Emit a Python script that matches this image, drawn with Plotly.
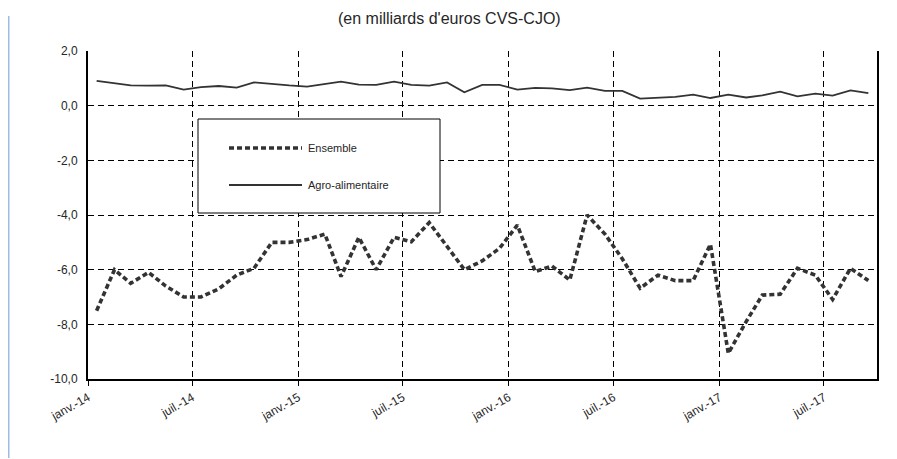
import pandas as pd
import plotly.graph_objects as go

# ---- data ----
START_MONTH = "2014-01-01"
ENSEMBLE = [-7.5, -6.0, -6.5, -6.1, -6.6, -7.0, -7.0, -6.7, -6.2, -5.95,
            -5.0, -5.0, -4.9, -4.7, -6.25, -4.82, -6.0, -4.82, -4.98, -4.28,
            -5.15, -6.0, -5.68, -5.22, -4.37, -6.07, -5.87, -6.38, -4.0, -4.7,
            -5.6, -6.68, -6.2, -6.4, -6.4, -5.07, -9.06, -7.9, -6.93, -6.9,
            -5.95, -6.2, -7.09, -5.95, -6.4]
AGRO = [0.91, 0.83, 0.74, 0.73, 0.74, 0.59, 0.68, 0.72, 0.66, 0.85,
        0.79, 0.74, 0.70, 0.79, 0.88, 0.77, 0.76, 0.88, 0.76, 0.73,
        0.85, 0.49, 0.76, 0.76, 0.59, 0.65, 0.63, 0.57, 0.66, 0.54,
        0.54, 0.26, 0.30, 0.32, 0.40, 0.28, 0.40, 0.30, 0.38, 0.51,
        0.34, 0.44, 0.37, 0.56, 0.46]
X_TICK_LABELS = ["janv.-14", "juil.-14", "janv.-15", "juil.-15",
                 "janv.-16", "juil.-16", "janv.-17", "juil.-17"]
Y_TICK_VALUES = [2, 0, -2, -4, -6, -8, -10]
Y_TICK_LABELS = ["2,0", "0,0", "-2,0", "-4,0", "-6,0", "-8,0", "-10,0"]
SERIES_NAMES = ["Ensemble", "Agro-alimentaire"]
TITLE = "(en milliards d'euros CVS-CJO)"

months = pd.date_range(START_MONTH, periods=len(ENSEMBLE), freq="MS")
x_mid = months + pd.Timedelta(days=15)
tick_dates = months[::6]
x_end = pd.date_range(START_MONTH, periods=len(ENSEMBLE) + 1, freq="MS")[-1]

# ---- layout geometry (pixels, relative to the figure div which sits 8px in) ----
W, H = 889, 451
L, R, T, B = 80, 869, 43, 371


def pxx(v):
    return (v - L) / (R - L)


def pxy(v):
    return (B - v) / (B - T)


FONT = "Liberation Sans, Arial, sans-serif"
INK = "#262626"
LINE = "#333333"

fig = go.Figure()
fig.add_trace(go.Scatter(x=x_mid, y=ENSEMBLE, mode="lines", name=SERIES_NAMES[0],
                         line=dict(color=LINE, width=3.6, dash="5px,3px"),
                         showlegend=False))
fig.add_trace(go.Scatter(x=x_mid, y=AGRO, mode="lines", name=SERIES_NAMES[1],
                         line=dict(color=LINE, width=1.8),
                         showlegend=False))

fig.update_layout(
    width=W, height=H,
    margin=dict(l=L, r=W - R, t=T, b=H - B, autoexpand=False),
    paper_bgcolor="white", plot_bgcolor="white",
    font=dict(family=FONT, color=INK, size=11),
    showlegend=False,
)
fig.update_xaxes(
    type="date", range=[months[0], x_end],
    tickmode="array", tickvals=tick_dates, ticktext=X_TICK_LABELS,
    tickangle=-30, tickfont=dict(size=12, color=INK),
    ticks="outside", ticklen=5, tickcolor="black", tickwidth=1,
    showgrid=True, gridcolor="black", gridwidth=1, griddash="6px,4px",
    showline=True, linecolor="black", linewidth=2,
    zeroline=False,
)
fig.update_yaxes(
    range=[-10, 2], tickmode="array", tickvals=Y_TICK_VALUES, ticktext=Y_TICK_LABELS,
    tickfont=dict(size=12, color=INK), ticks="", ticklabelstandoff=6,
    showgrid=True, gridcolor="black", gridwidth=1, griddash="6px,4px",
    showline=True, linecolor="black", linewidth=2, mirror=True,
    zeroline=False,
)

shapes = []
annotations = []
# legend box
shapes.append(dict(type="rect", xref="paper", yref="paper",
                   x0=pxx(190), x1=pxx(432), y0=pxy(205), y1=pxy(111),
                   line=dict(color="black", width=1), fillcolor="white", layer="above"))
shapes.append(dict(type="line", xref="paper", yref="paper",
                   x0=pxx(221), x1=pxx(294), y0=pxy(140), y1=pxy(140),
                   line=dict(color=LINE, width=3.6, dash="5px,3px"), layer="above"))
shapes.append(dict(type="line", xref="paper", yref="paper",
                   x0=pxx(221), x1=pxx(294), y0=pxy(177), y1=pxy(177),
                   line=dict(color=LINE, width=1.8), layer="above"))
for name, yy in zip(SERIES_NAMES, [140, 177]):
    annotations.append(dict(xref="paper", yref="paper", x=pxx(298), y=pxy(yy),
                            text=name, showarrow=False, xanchor="left", yanchor="middle",
                            font=dict(size=11, color=INK)))
# left blue rule
shapes.append(dict(type="line", xref="paper", yref="paper",
                   x0=pxx(0.75), x1=pxx(0.75), y0=pxy(450), y1=pxy(8),
                   line=dict(color="#9DBCE3", width=1.5)))
# title (kept fully inside the page)
annotations.append(dict(xref="paper", yref="paper", x=pxx(441), y=pxy(0),
                        text=TITLE, showarrow=False, xanchor="center", yanchor="top",
                        font=dict(size=16, color=INK)))

fig.update_layout(shapes=shapes, annotations=annotations)
fig.write_html("out.html")
